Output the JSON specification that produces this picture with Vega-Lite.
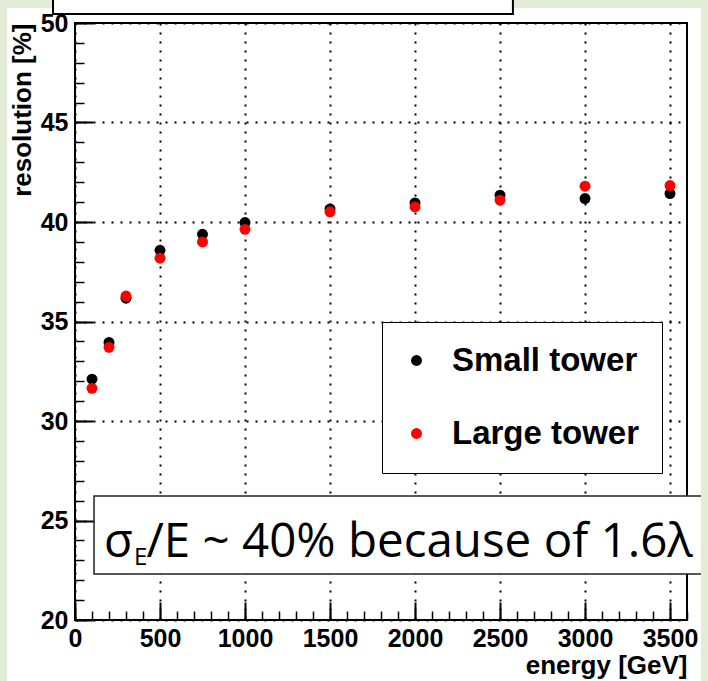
{
  "$schema": "https://vega.github.io/schema/vega-lite/v6.json",
  "width": 612,
  "height": 597,
  "autosize": {"type": "none"},
  "padding": {"left": 75, "top": 23, "right": 21, "bottom": 61},
  "background": "white",
  "config": {"view": {"stroke": "black", "strokeWidth": 2}},
  "datasets": {
    "points": [
      {"energy": 100, "resolution": 32.1, "tower": "Small tower"},
      {"energy": 200, "resolution": 33.95, "tower": "Small tower"},
      {"energy": 300, "resolution": 36.17, "tower": "Small tower"},
      {"energy": 500, "resolution": 38.58, "tower": "Small tower"},
      {"energy": 750, "resolution": 39.38, "tower": "Small tower"},
      {"energy": 1000, "resolution": 39.97, "tower": "Small tower"},
      {"energy": 1500, "resolution": 40.66, "tower": "Small tower"},
      {"energy": 2000, "resolution": 40.96, "tower": "Small tower"},
      {"energy": 2500, "resolution": 41.35, "tower": "Small tower"},
      {"energy": 3000, "resolution": 41.18, "tower": "Small tower"},
      {"energy": 3500, "resolution": 41.43, "tower": "Small tower"},
      {"energy": 100, "resolution": 31.64, "tower": "Large tower"},
      {"energy": 200, "resolution": 33.7, "tower": "Large tower"},
      {"energy": 300, "resolution": 36.28, "tower": "Large tower"},
      {"energy": 500, "resolution": 38.18, "tower": "Large tower"},
      {"energy": 750, "resolution": 39.0, "tower": "Large tower"},
      {"energy": 1000, "resolution": 39.63, "tower": "Large tower"},
      {"energy": 1500, "resolution": 40.51, "tower": "Large tower"},
      {"energy": 2000, "resolution": 40.76, "tower": "Large tower"},
      {"energy": 2500, "resolution": 41.1, "tower": "Large tower"},
      {"energy": 3000, "resolution": 41.8, "tower": "Large tower"},
      {"energy": 3500, "resolution": 41.83, "tower": "Large tower"}
    ]
  },
  "resolve": {"axis": {"x": "independent", "y": "independent"}},
  "layer": [
    {
      "data": {"name": "points"},
      "mark": {"type": "circle", "size": 120, "opacity": 1},
      "encoding": {
        "x": {
          "field": "energy", "type": "quantitative",
          "scale": {"domain": [0, 3600], "nice": false, "zero": false},
          "axis": {
            "orient": "bottom", "format": "d",
            "values": [0, 500, 1000, 1500, 2000, 2500, 3000, 3500],
            "title": "energy [GeV]", "titleAnchor": "end", "titleAlign": "right",
            "titleFont": "Liberation Sans", "titleFontWeight": "bold", "titleFontSize": 26, "titleColor": "black",
            "titleBaseline": "alphabetic", "titleY": 53,
            "labelFont": "Liberation Sans", "labelFontWeight": "bold", "labelFontSize": 25, "labelColor": "black",
            "labelPadding": 24, "labelFlush": false, "labelOverlap": false,
            "ticks": true, "tickSize": -18, "tickColor": "black", "tickWidth": 2, "tickOpacity": 1,
            "grid": true, "gridColor": "black", "gridDash": [2, 7], "gridWidth": 2, "gridOpacity": 1,
            "domain": false
          }
        },
        "y": {
          "field": "resolution", "type": "quantitative",
          "scale": {"domain": [20, 50], "nice": false, "zero": false},
          "axis": {
            "orient": "left", "format": "d",
            "values": [20, 25, 30, 35, 40, 45, 50],
            "title": "resolution [%]", "titleAnchor": "end", "titleAlign": "right", "titleAngle": 270,
            "titleFont": "Liberation Sans", "titleFontWeight": "bold", "titleFontSize": 26, "titleColor": "black",
            "titleBaseline": "alphabetic", "titleX": -45, "titleY": 0,
            "labelFont": "Liberation Sans", "labelFontWeight": "bold", "labelFontSize": 25, "labelColor": "black",
            "labelPadding": 25, "labelFlush": false, "labelOverlap": false, "labelBaseline": "middle",
            "ticks": true, "tickSize": -18, "tickColor": "black", "tickWidth": 2, "tickOpacity": 1,
            "grid": true, "gridColor": "black", "gridDash": [2, 7], "gridWidth": 2, "gridOpacity": 1,
            "domain": false
          }
        },
        "color": {
          "field": "tower", "type": "nominal",
          "scale": {"domain": ["Small tower", "Large tower"], "range": ["#000000", "#ff0000"]},
          "legend": {
            "title": null, "orient": "none", "legendX": 307, "legendY": 299,
            "fillColor": "white", "strokeColor": "black", "padding": 22,
            "symbolType": "circle", "symbolSize": 120, "symbolStrokeWidth": 0, "symbolOffset": -4,
            "labelOffset": 19, "labelFont": "Liberation Sans", "labelFontWeight": "bold", "labelFontSize": 33,
            "labelColor": "black", "labelLimit": 400, "rowPadding": 39
          }
        }
      }
    },
    {
      "data": {"name": "points"},
      "mark": {"type": "circle", "opacity": 0},
      "encoding": {
        "x": {
          "field": "energy", "type": "quantitative",
          "scale": {"domain": [0, 3600], "nice": false, "zero": false},
          "axis": {
            "orient": "bottom", "labels": false, "grid": false, "domain": false, "title": null,
            "values": [0,100,200,300,400,500,600,700,800,900,1000,1100,1200,1300,1400,1500,1600,1700,1800,1900,2000,2100,2200,2300,2400,2500,2600,2700,2800,2900,3000,3100,3200,3300,3400,3500,3600],
            "ticks": true, "tickSize": -9, "tickColor": "black", "tickWidth": 1.5, "tickOpacity": 1
          }
        },
        "y": {
          "field": "resolution", "type": "quantitative",
          "scale": {"domain": [20, 50], "nice": false, "zero": false},
          "axis": {
            "orient": "left", "labels": false, "grid": false, "domain": false, "title": null,
            "values": [20,21,22,23,24,25,26,27,28,29,30,31,32,33,34,35,36,37,38,39,40,41,42,43,44,45,46,47,48,49,50],
            "ticks": true, "tickSize": -9, "tickColor": "black", "tickWidth": 1.5, "tickOpacity": 1
          }
        }
      }
    },
    {
      "data": {"values": [{}]},
      "mark": {"type": "rect", "fill": "white", "stroke": "#222222", "strokeWidth": 1.5},
      "encoding": {
        "x": {"datum": 112, "type": "quantitative", "scale": {"domain": [0, 3600], "nice": false, "zero": false}, "axis": null},
        "x2": {"datum": 3700},
        "y": {"datum": 26.23, "type": "quantitative", "scale": {"domain": [20, 50], "nice": false, "zero": false}, "axis": null},
        "y2": {"datum": 22.31}
      }
    },
    {
      "data": {"values": [{}]},
      "mark": {"type": "text", "text": "σ", "font": "Open Sans", "fontSize": 47, "align": "left", "baseline": "alphabetic", "color": "black"},
      "encoding": {
        "x": {"datum": 170, "type": "quantitative", "scale": {"domain": [0, 3600], "nice": false, "zero": false}, "axis": null},
        "y": {"datum": 23.17, "type": "quantitative", "scale": {"domain": [20, 50], "nice": false, "zero": false}, "axis": null}
      }
    },
    {
      "data": {"values": [{}]},
      "mark": {"type": "text", "text": "E", "font": "Open Sans", "fontSize": 24, "align": "left", "baseline": "alphabetic", "color": "black"},
      "encoding": {
        "x": {"datum": 347, "type": "quantitative", "scale": {"domain": [0, 3600], "nice": false, "zero": false}, "axis": null},
        "y": {"datum": 22.74, "type": "quantitative", "scale": {"domain": [20, 50], "nice": false, "zero": false}, "axis": null}
      }
    },
    {
      "data": {"values": [{}]},
      "mark": {"type": "text", "text": "/E ~ 40% because of 1.6λ", "font": "Open Sans", "fontSize": 47.5, "align": "left", "baseline": "alphabetic", "color": "black"},
      "encoding": {
        "x": {"datum": 420, "type": "quantitative", "scale": {"domain": [0, 3600], "nice": false, "zero": false}, "axis": null},
        "y": {"datum": 23.17, "type": "quantitative", "scale": {"domain": [20, 50], "nice": false, "zero": false}, "axis": null}
      }
    },
    {
      "data": {"values": [{}]},
      "mark": {"type": "rect", "fill": "#e2ecd6"},
      "encoding": {
        "x": {"datum": -445, "type": "quantitative", "scale": {"domain": [0, 3600], "nice": false, "zero": false}, "axis": null},
        "x2": {"datum": -400},
        "y": {"datum": 16.8, "type": "quantitative", "scale": {"domain": [20, 50], "nice": false, "zero": false}, "axis": null},
        "y2": {"datum": 51.3}
      }
    },
    {
      "data": {"values": [{}]},
      "mark": {"type": "rect", "fill": "#e2ecd6"},
      "encoding": {
        "x": {"datum": 3682, "type": "quantitative", "scale": {"domain": [0, 3600], "nice": false, "zero": false}, "axis": null},
        "x2": {"datum": 3730},
        "y": {"datum": 16.8, "type": "quantitative", "scale": {"domain": [20, 50], "nice": false, "zero": false}, "axis": null},
        "y2": {"datum": 51.3}
      }
    },
    {
      "data": {"values": [{}]},
      "mark": {"type": "rect", "fill": "#e2ecd6"},
      "encoding": {
        "x": {"datum": -445, "type": "quantitative", "scale": {"domain": [0, 3600], "nice": false, "zero": false}, "axis": null},
        "x2": {"datum": 3730},
        "y": {"datum": 50.754, "type": "quantitative", "scale": {"domain": [20, 50], "nice": false, "zero": false}, "axis": null},
        "y2": {"datum": 51.3}
      }
    },
    {
      "data": {"values": [{}]},
      "mark": {"type": "rect", "fill": "white", "stroke": "black", "strokeWidth": 2},
      "encoding": {
        "x": {"datum": -129.4, "type": "quantitative", "scale": {"domain": [0, 3600], "nice": false, "zero": false}, "axis": null},
        "x2": {"datum": 2576},
        "y": {"datum": 50.452, "type": "quantitative", "scale": {"domain": [20, 50], "nice": false, "zero": false}, "axis": null},
        "y2": {"datum": 51.3}
      }
    }
  ]
}
